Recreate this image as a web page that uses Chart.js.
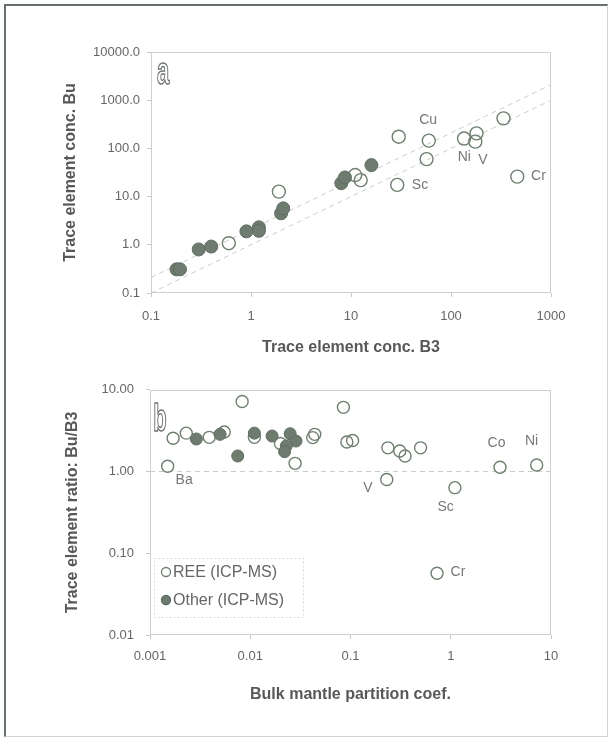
<!DOCTYPE html>
<html>
<head>
<meta charset="utf-8">
<script src="https://cdn.jsdelivr.net/npm/chart.js@4"></script>
<style>
  html, body { margin: 0; padding: 0; background: #fff; }
  #page { position: relative; width: 612px; height: 740px; overflow: hidden; }
  #frame {
    position: absolute; left: 4px; top: 4px; width: 604px; height: 733px; box-sizing: border-box;
    border-left: 2px solid #66716a; border-top: 2px solid #66716a;
    border-right: 1px solid #d2d6d2; border-bottom: 1px solid #d2d6d2;
    pointer-events: none;
  }
  canvas { position: absolute; left: 0; }
  #topChart { top: 0; }
  #bottomChart { top: 370px; }
</style>
</head>
<body>
<div id="page">
  <canvas id="topChart" width="612" height="370"></canvas>
  <canvas id="bottomChart" width="612" height="370"></canvas>
  <div id="frame"></div>
</div>
<script>
// ---- panel a: Bu vs B3 concentrations ----
const topOpenX = [0.6, 1.9, 11, 12.5, 30, 29, 60, 57, 135, 180, 175, 335, 460];
const topOpenY = [1.08, 12.7, 28, 22, 175, 17.5, 145, 60, 160, 205, 138, 420, 26];
const topFilledX = [0.18, 0.195, 0.3, 0.4, 0.9, 1.2, 1.2, 2.0, 2.1, 8.0, 8.7, 16];
const topFilledY = [0.31, 0.31, 0.8, 0.92, 1.9, 2.3, 1.95, 4.5, 5.7, 19, 25, 45];
const topUpperLineX = [0.1, 1000];
const topUpperLineY = [0.21, 2100];
const topLowerLineX = [0.1, 1000];
const topLowerLineY = [0.1, 1000];
const topXTicks = [0.1, 1, 10, 100, 1000];
const topXLabels = ["0.1", "1", "10", "100", "1000"];
const topYTicks = [0.1, 1, 10, 100, 1000, 10000];
const topYLabels = ["0.1", "1.0", "10.0", "100.0", "1000.0", "10000.0"];
const topNotes = [
  { text: "Cu", x: 59, y: 390 },
  { text: "Ni", x: 136, y: 67 },
  { text: "V", x: 209, y: 57 },
  { text: "Sc", x: 49, y: 17.5 },
  { text: "Cr", x: 750, y: 26 },
];

// ---- panel b: Bu/B3 ratio vs bulk partition coefficient ----
const botOpenX = [0.0017, 0.0015, 0.0023, 0.0039, 0.0055, 0.0083, 0.011, 0.020, 0.028, 0.042, 0.044, 0.085, 0.092, 0.105, 0.236, 0.31, 0.35, 0.50, 0.23, 1.1, 0.73, 3.1, 7.2];
const botOpenY = [2.55, 1.16, 2.95, 2.62, 3.05, 7.2, 2.62, 2.2, 1.26, 2.6, 2.85, 6.1, 2.3, 2.4, 1.95, 1.78, 1.55, 1.95, 0.8, 0.635, 0.057, 1.13, 1.2];
const botFilledX = [0.0029, 0.005, 0.0075, 0.011, 0.0165, 0.025, 0.0286, 0.0229, 0.022];
const botFilledY = [2.5, 2.85, 1.55, 2.95, 2.72, 2.9, 2.36, 2.06, 1.75];
const botRefLineX = [0.001, 10];
const botRefLineY = [1, 1];
const botXTicks = [0.001, 0.01, 0.1, 1, 10];
const botXLabels = ["0.001", "0.01", "0.1", "1", "10"];
const botYTicks = [0.01, 0.1, 1, 10];
const botYLabels = ["0.01", "0.10", "1.00", "10.00"];
const botNotes = [
  { text: "Ba", x: 0.00219, y: 0.79 },
  { text: "V", x: 0.149, y: 0.62 },
  { text: "Sc", x: 0.89, y: 0.37 },
  { text: "Cr", x: 1.18, y: 0.0585 },
  { text: "Co", x: 2.86, y: 2.25 },
  { text: "Ni", x: 6.4, y: 2.36 },
];

const FONT = "'Liberation Sans', Arial, sans-serif";
const OPEN_COLOR = "#6f7f70";
const FILL_COLOR = "#6e7c70";
const FILL_EDGE = "#5f6c61";

function pts(xs, ys) {
  return xs.map((x, i) => ({ x: x, y: ys[i] }));
}

// plot frame, element labels, panel letter and the inset legend
const notesPlugin = {
  id: "notes",
  beforeDatasetsDraw(chart) {
    const a = chart.chartArea;
    const ctx = chart.ctx;
    ctx.save();
    ctx.strokeStyle = "#cdd1cd";
    ctx.lineWidth = 1;
    ctx.strokeRect(Math.round(a.left) + 0.5, Math.round(a.top) + 0.5, Math.round(a.width) - 1, Math.round(a.height) - 1);
    ctx.restore();
  },
  afterDraw(chart, args, opts) {
    const { ctx, chartArea: a, scales } = chart;
    ctx.save();
    ctx.fillStyle = "#777";
    ctx.font = "14px " + FONT;
    ctx.textAlign = "center";
    ctx.textBaseline = "middle";
    (opts.labels || []).forEach((n) => {
      ctx.fillText(n.text, scales.x.getPixelForValue(n.x), scales.y.getPixelForValue(n.y));
    });

    if (opts.letter) {
      // tall outlined panel letter
      ctx.save();
      ctx.translate(a.left + opts.letterDx, a.top + opts.letterDy);
      ctx.scale(1, 1.8);
      ctx.font = "bold 22px " + FONT;
      ctx.textBaseline = "alphabetic";
      ctx.strokeStyle = "#707570";
      ctx.lineWidth = 0.9;
      ctx.strokeText(opts.letter, 0, 0);
      ctx.restore();
    }

    if (opts.legend) {
      const bx = a.left + 4, by = a.bottom - 77, bw = 149, bh = 59;
      ctx.strokeStyle = "#d8dbd8";
      ctx.setLineDash([2, 2]);
      ctx.strokeRect(bx + 0.5, by + 0.5, bw, bh);
      ctx.setLineDash([]);
      ctx.font = "16px " + FONT;
      ctx.textAlign = "left";
      ctx.fillStyle = "#666";
      const entries = chart.data.datasets.filter((d) => d.legendRow !== undefined);
      entries.forEach((d) => {
        const yy = by + 14 + d.legendRow * 28;
        ctx.beginPath();
        ctx.arc(bx + 12, yy, 4.5, 0, Math.PI * 2);
        if (d.pointBackgroundColor !== "rgba(0,0,0,0)") {
          ctx.fillStyle = d.pointBackgroundColor;
          ctx.fill();
        }
        ctx.strokeStyle = d.pointBorderColor;
        ctx.lineWidth = 1.3;
        ctx.stroke();
        ctx.fillStyle = "#666";
        ctx.fillText(d.label, bx + 19, yy + 1);
      });
    }
    ctx.restore();
  },
};

function logAxis(ticks, labels, min, max, pad, extra) {
  return Object.assign({
    type: "logarithmic",
    min: min,
    max: max,
    border: { display: false },
    grid: { display: true, drawOnChartArea: false, drawTicks: true, tickLength: 4, color: "#c8ccc8" },
    afterBuildTicks: (s) => { s.ticks = ticks.map((v) => ({ value: v })); },
    ticks: {
      autoSkip: false,
      maxRotation: 0,
      padding: pad,
      color: "#666",
      font: { family: FONT, size: 13 },
      callback: (v, i) => labels[i],
    },
  }, extra);
}

function scatterChart(canvasId, cfg) {
  const canvas = document.getElementById(canvasId);
  return new Chart(canvas, {
    type: "scatter",
    data: { datasets: cfg.datasets },
    options: {
      responsive: false,
      animation: false,
      layout: { padding: cfg.padding },
      plugins: { legend: { display: false }, tooltip: { enabled: false }, notes: cfg.notes },
      scales: cfg.scales,
    },
    plugins: [notesPlugin],
  });
}

function openSet(data, r, label, row) {
  return {
    label: label, legendRow: row, data: data, pointRadius: r, pointBorderWidth: 1.4,
    pointBackgroundColor: "rgba(0,0,0,0)", pointBorderColor: OPEN_COLOR,
  };
}
function filledSet(data, r, label, row) {
  return {
    label: label, legendRow: row, data: data, pointRadius: r, pointBorderWidth: 1,
    pointBackgroundColor: FILL_COLOR, pointBorderColor: FILL_EDGE,
  };
}
function dashedLine(data) {
  return {
    data: data, showLine: true, pointRadius: 0, borderColor: "#c9cdc9",
    borderWidth: 1, borderDash: [5, 4], fill: false,
  };
}

const titleFont = { family: FONT, size: 16, weight: "bold" };

scatterChart("topChart", {
  padding: { top: 52, right: 61, left: 0, bottom: 0 },
  notes: { labels: topNotes, letter: "a", letterDx: 12, letterDy: 32 },
  datasets: [
    filledSet(pts(topFilledX, topFilledY), 6.5),
    openSet(pts(topOpenX, topOpenY), 6.5),
    dashedLine(pts(topUpperLineX, topUpperLineY)),
    dashedLine(pts(topLowerLineX, topLowerLineY)),
  ],
  scales: {
    x: logAxis(topXTicks, topXLabels, 0.1, 1000, 12, {
      afterFit: (s) => { s.height = 77; },
      title: { display: true, text: "Trace element conc. B3", color: "#585858", font: titleFont, padding: { top: 0, bottom: 13 } },
    }),
    y: logAxis(topYTicks, topYLabels, 0.1, 10000, 7, {
      afterFit: (s) => { s.width = 151; },
      title: { display: true, text: "Trace element conc. Bu", color: "#585858", font: titleFont, padding: { top: 61, bottom: 0 } },
    }),
  },
});

scatterChart("bottomChart", {
  padding: { top: 16, right: 61, left: 0, bottom: 0 },
  notes: { labels: botNotes, letter: "b", letterDx: 10, letterDy: 41, legend: true },
  datasets: [
    filledSet(pts(botFilledX, botFilledY), 6, "Other (ICP-MS)", 1),
    openSet(pts(botOpenX, botOpenY), 6, "REE (ICP-MS)", 0),
    dashedLine(pts(botRefLineX, botRefLineY)),
  ],
  scales: {
    x: logAxis(botXTicks, botXLabels, 0.001, 10, 10, {
      afterFit: (s) => { s.height = 105; },
      title: { display: true, text: "Bulk mantle partition coef.", color: "#585858", font: titleFont, padding: { top: 0, bottom: 36 } },
    }),
    y: logAxis(botYTicks, botYLabels, 0.01, 10, 12, {
      afterFit: (s) => { s.width = 150; },
      title: { display: true, text: "Trace element ratio: Bu/B3", color: "#585858", font: titleFont, padding: { top: 63, bottom: 0 } },
    }),
  },
});
</script>
</body>
</html>
